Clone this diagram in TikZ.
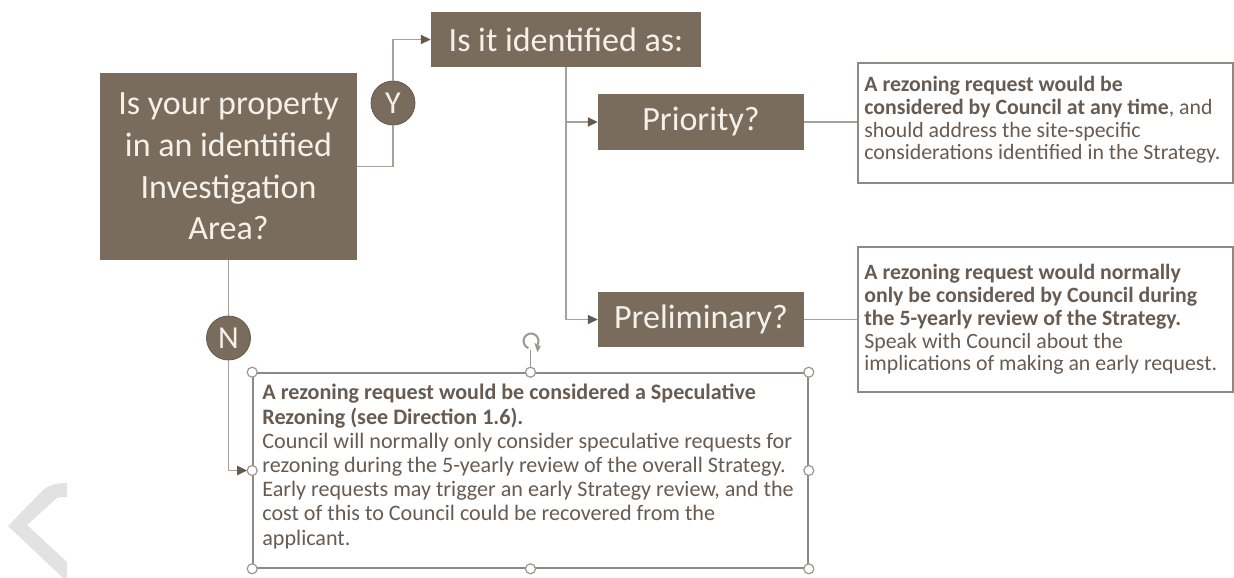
\documentclass[tikz,border=0pt]{standalone}
\usepackage{fontspec}
\setmainfont{Carlito}
\usetikzlibrary{arrows.meta}

\definecolor{boxfill}{HTML}{7A6C5D}
\definecolor{boxtext}{HTML}{F4F0EA}
\definecolor{linec}{HTML}{A7A19B}
\definecolor{arrowc}{HTML}{66584A}
\definecolor{framec}{HTML}{8E8983}
\definecolor{notetext}{HTML}{675B52}
\definecolor{handlec}{HTML}{9C9792}
\definecolor{chevc}{HTML}{E2E2E2}

\begin{document}
\begin{tikzpicture}[x=1pt,y=-1pt,
  qbox/.style={rectangle, fill=boxfill, text=boxtext, inner sep=0pt,
    align=center, font=\fontsize{34}{41.7}\selectfont},
  yn/.style={circle, fill=boxfill, draw=arrowc, line width=0.8pt,
    text=boxtext, inner sep=0pt, minimum size=44pt,
    font=\fontsize{32}{36}\selectfont},
  frame/.style={rectangle, draw=framec, line width=1.6pt, fill=white,
    inner sep=0pt},
  notetxt/.style={anchor=west, text=notetext, align=left, inner sep=0pt},
  rfont/.style={font=\fontsize{21.8}{22.8}\selectfont},
  conn/.style={draw=linec, line width=1.8pt},
  tipped/.style={-{Triangle[length=10pt,width=9pt,color=arrowc]}},
  handle/.style={circle, draw=handlec, fill=white, line width=1.2pt,
    minimum size=10pt, inner sep=0pt},
  rotline/.style={draw=handlec, line width=1.2pt}
]
\useasboundingbox (0,0) rectangle (1234,578);

% faint chevron in the lower left corner
\fill[chevc] (67,483) .. controls (57,483) and (49,485) .. (43,490)
  -- (8,526) -- (63,578) -- (67,578) -- (67,562) -- (27,525)
  -- (57,498) .. controls (60,497) and (64,497) .. (67,497) -- cycle;

% question boxes
\node[qbox, minimum width=257pt, minimum height=187pt] (main) at (228.5,166.5)
  {Is your property\\in an identified\\Investigation\\Area?};
\node[qbox, minimum width=270pt, minimum height=55pt] (ident) at (566,39.5)
  {Is it identified as:};
\node[qbox, minimum width=206pt, minimum height=56pt] (prio) at (701,122)
  {Priority?};
\node[qbox, minimum width=206pt, minimum height=55pt] (prelim) at (701,319.5)
  {Preliminary?};

% yes / no markers
\node[yn] (Y) at (393,103) {Y};
\node[yn] (N) at (228.5,338) {N};

% outcome notes: frames, then their texts
\node[frame, minimum width=375pt, minimum height=120pt] (box1) at (1045.5,123) {};
\node[notetxt, rfont] (box1txt) at ([xshift=7pt,yshift=3pt]box1.west)
  {\textbf{A rezoning request would be}\\
   \textbf{considered by Council at any time}, and\\
   should address the site-specific\\
   considerations identified in the Strategy.};

\node[frame, minimum width=375pt, minimum height=145pt] (box2) at (1045.5,319.5) {};
\node[notetxt, rfont] (box2txt) at ([xshift=7pt]box2.west)
  {\textbf{A rezoning request would normally}\\
   \textbf{only be considered by Council during}\\
   \textbf{the 5-yearly review of the Strategy.}\\
   Speak with Council about the\\
   implications of making an early request.};

\node[frame, minimum width=555pt, minimum height=195pt] (bot) at (530.5,470.5) {};
\node[notetxt, font=\fontsize{22.1}{24.2}\selectfont] (bottxt)
  at ([xshift=10pt,yshift=4pt]bot.west)
  {\textbf{A rezoning request would be considered a Speculative}\\
   \textbf{Rezoning (see Direction 1.6).}\\
   Council will normally only consider speculative requests for\\
   rezoning during the 5-yearly review of the overall Strategy.\\
   Early requests may trigger an early Strategy review, and the\\
   cost of this to Council could be recovered from the\\
   applicant.};

% connectors
\draw[conn] (main.east) -| (Y.south);
\draw[conn,tipped] (Y.north) |- (ident.west);
\draw[conn,tipped] (ident.south) |- (prio.west);
\draw[conn,tipped] (ident.south) |- (prelim.west);
\draw[conn] (prio.east) -- (prio.east -| box1.west);
\draw[conn] (prelim.east) -- (box2.west);
\draw[conn] (main.south) -- (N.north);
\draw[conn,tipped,shorten >=5pt] (N.south) |- (bot.west);

% selection handles around the bottom note, with the rotate grip above
\coordinate (rot) at (531,341);
\draw[rotline] (bot.north) -- (530.5,350);
\begin{scope}[shift={(rot)}, x=1pt, y=1pt]
  \draw[handlec, line width=2pt] (-30:7.5) arc[start angle=-30, end angle=250, radius=7.5];
  \fill[handlec] (-30:3.8) -- (-30:11.2) -- ++(-120:6.5) -- cycle;
\end{scope}
\foreach \a/\n in {north west/hnw, north/hn, north east/hne, east/he,
                   south east/hse, south/hs, south west/hsw, west/hw}
  \node[handle] (\n) at (bot.\a) {};
\end{tikzpicture}
\end{document}
